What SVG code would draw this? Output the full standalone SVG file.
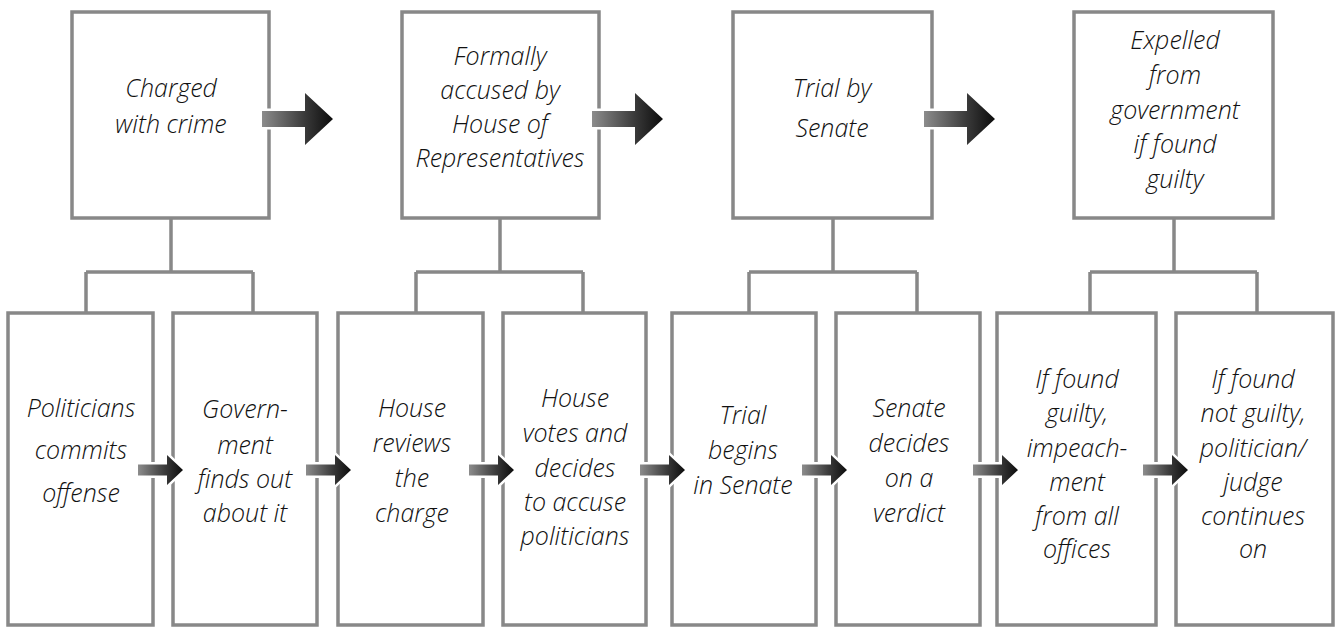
<svg xmlns="http://www.w3.org/2000/svg" xmlns:xlink="http://www.w3.org/1999/xlink" width="1340" height="627" viewBox="0 0 1340 627">
  <style>
    .box { fill: #ffffff; stroke: #888888; stroke-width: 3.5; }
    .conn { fill: none; stroke: #888888; stroke-width: 3.5; }
    .lbl { font-family: "Open Sans", "Liberation Sans", sans-serif; font-style: italic; font-weight: 300; font-size: 25px; fill: #111111; text-anchor: middle; }
    .arrow { fill: url(#arrowGrad); stroke: #ffffff; stroke-width: 5; paint-order: stroke; stroke-linejoin: miter; }
  </style>
  <defs>
    <linearGradient id="arrowGrad" x1="0" y1="0" x2="1" y2="0">
      <stop offset="0" stop-color="#8c8c8c"/>
      <stop offset="0.6" stop-color="#3a3a3a"/>
      <stop offset="1" stop-color="#0c0c0c"/>
    </linearGradient>
    <path id="bigArrow" class="arrow" d="M0,-8 H43 V-26 L71,0 L43,26 V8 H0 Z"/>
    <path id="smallArrow" class="arrow" d="M0,-5.5 H29 V-15 L45,0 L29,15 V5.5 H0 Z"/>
  </defs>
  <rect width="1340" height="627" fill="#ffffff"/>

  <g id="connectors">
    <path class="conn" d="M171,218 V272 M86,272 H253 M86,272 V313 M253,272 V313"/>
    <path class="conn" d="M500,218 V272 M416,272 H583 M416,272 V313 M583,272 V313"/>
    <path class="conn" d="M833,218 V272 M749,272 H917 M749,272 V313 M917,272 V313"/>
    <path class="conn" d="M1174,218 V272 M1090,272 H1257 M1090,272 V313 M1257,272 V313"/>
  </g>

  <g id="top1">
    <rect class="box" x="72" y="12" width="197" height="206"/>
    <text class="lbl"><tspan x="171" y="97">Charged</tspan><tspan x="171" y="133">with crime</tspan></text>
  </g>
  <g id="top2">
    <rect class="box" x="402" y="12" width="197" height="206"/>
    <text class="lbl"><tspan x="500" y="65">Formally</tspan><tspan x="500" y="99">accused by</tspan><tspan x="500" y="133">House of</tspan><tspan x="500" y="167">Representatives</tspan></text>
  </g>
  <g id="top3">
    <rect class="box" x="733" y="12" width="199" height="206"/>
    <text class="lbl"><tspan x="832" y="97">Trial by</tspan><tspan x="832" y="137">Senate</tspan></text>
  </g>
  <g id="top4">
    <rect class="box" x="1074" y="12" width="199" height="206"/>
    <text class="lbl"><tspan x="1175" y="49">Expelled</tspan><tspan x="1175" y="84">from</tspan><tspan x="1175" y="119">government</tspan><tspan x="1175" y="153">if found</tspan><tspan x="1175" y="188">guilty</tspan></text>
  </g>

  <g id="stepA">
    <rect class="box" x="8" y="313" width="145" height="312"/>
    <text class="lbl"><tspan x="81" y="417">Politicians</tspan><tspan x="81" y="459">commits</tspan><tspan x="81" y="502">offense</tspan></text>
  </g>
  <g id="stepB">
    <rect class="box" x="173" y="313" width="144" height="312"/>
    <text class="lbl"><tspan x="245" y="418">Govern-</tspan><tspan x="245" y="454">ment</tspan><tspan x="245" y="488">finds out</tspan><tspan x="245" y="522">about it</tspan></text>
  </g>
  <g id="stepC">
    <rect class="box" x="338" y="313" width="145" height="312"/>
    <text class="lbl"><tspan x="412" y="417">House</tspan><tspan x="412" y="452">reviews</tspan><tspan x="412" y="487">the</tspan><tspan x="412" y="522">charge</tspan></text>
  </g>
  <g id="stepD">
    <rect class="box" x="503" y="313" width="143" height="312"/>
    <text class="lbl"><tspan x="575" y="407">House</tspan><tspan x="575" y="442">votes and</tspan><tspan x="575" y="477">decides</tspan><tspan x="575" y="511">to accuse</tspan><tspan x="575" y="545">politicians</tspan></text>
  </g>
  <g id="stepE">
    <rect class="box" x="672" y="313" width="144" height="312"/>
    <text class="lbl"><tspan x="743" y="424">Trial</tspan><tspan x="743" y="459">begins</tspan><tspan x="743" y="494">in Senate</tspan></text>
  </g>
  <g id="stepF">
    <rect class="box" x="836" y="313" width="144" height="312"/>
    <text class="lbl"><tspan x="909" y="417">Senate</tspan><tspan x="909" y="452">decides</tspan><tspan x="909" y="487">on a</tspan><tspan x="909" y="522">verdict</tspan></text>
  </g>
  <g id="stepG">
    <rect class="box" x="997" y="313" width="159" height="312"/>
    <text class="lbl"><tspan x="1077" y="388">If found</tspan><tspan x="1077" y="422">guilty,</tspan><tspan x="1077" y="457">impeach-</tspan><tspan x="1077" y="491">ment</tspan><tspan x="1077" y="525">from all</tspan><tspan x="1077" y="558">offices</tspan></text>
  </g>
  <g id="stepH">
    <rect class="box" x="1176" y="313" width="157" height="312"/>
    <text class="lbl"><tspan x="1253" y="388">If found</tspan><tspan x="1253" y="422">not guilty,</tspan><tspan x="1253" y="457">politician/</tspan><tspan x="1253" y="491">judge</tspan><tspan x="1253" y="525">continues</tspan><tspan x="1253" y="558">on</tspan></text>
  </g>

  <g id="arrows">
    <use xlink:href="#bigArrow" href="#bigArrow" x="262" y="119"/>
    <use xlink:href="#bigArrow" href="#bigArrow" x="592" y="119"/>
    <use xlink:href="#bigArrow" href="#bigArrow" x="924" y="119"/>
    <use xlink:href="#smallArrow" href="#smallArrow" x="138" y="470"/>
    <use xlink:href="#smallArrow" href="#smallArrow" x="306" y="470"/>
    <use xlink:href="#smallArrow" href="#smallArrow" x="469" y="470"/>
    <use xlink:href="#smallArrow" href="#smallArrow" x="640" y="470"/>
    <use xlink:href="#smallArrow" href="#smallArrow" x="802" y="470"/>
    <use xlink:href="#smallArrow" href="#smallArrow" x="973" y="470"/>
    <use xlink:href="#smallArrow" href="#smallArrow" x="1143" y="470"/>
  </g>
</svg>
